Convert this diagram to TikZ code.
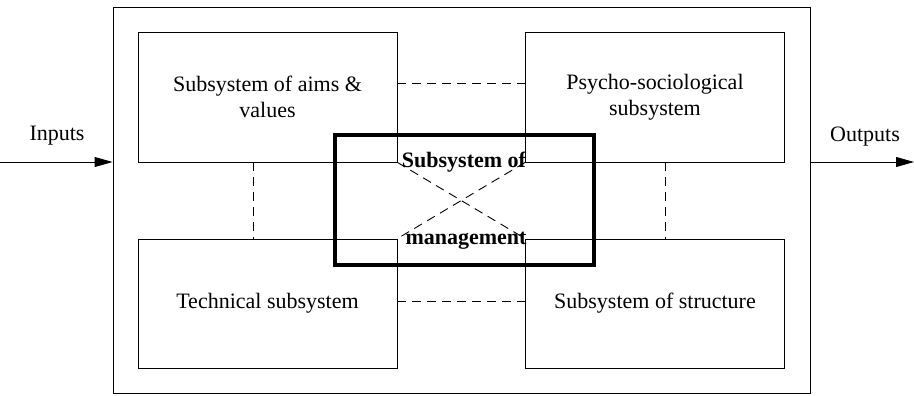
\documentclass[tikz,border=0pt]{standalone}
\usepackage{fontspec}
\setmainfont{Liberation Serif}
\usetikzlibrary{arrows.meta,calc}
\begin{document}
\begin{tikzpicture}[x=1pt,y=-1pt,
  txt/.style={font=\fontsize{22}{26}\selectfont},
  box/.style={draw,line width=0.9pt,minimum width=259pt,minimum height=129pt,align=center,inner sep=0pt,txt},
  link/.style={line width=0.9pt,dash pattern=on 9pt off 6pt},
  flow/.style={line width=0.9pt,-{Triangle[length=18pt,width=10pt]}},
  lbl/.style={txt,inner sep=0pt},
  mlbl/.style={font=\fontsize{22}{26}\selectfont\bfseries,inner sep=0pt}]
\useasboundingbox (0,0) rectangle (914,396);
\node[draw,line width=0.9pt,minimum width=697pt,minimum height=386pt] (sys) at (461.5,200) {};
\node[box,minimum height=130pt] (tl) at (267.5,97) {Subsystem of aims \&\\values};
\node[box,minimum height=130pt] (tr) at (655,97) {Psycho-sociological\\subsystem};
\node[box] (bl) at (267.5,303.5) {Technical subsystem};
\node[box] (br) at (655,303.5) {Subsystem of structure};
\node[draw,line width=3.5pt,minimum width=259pt,minimum height=130pt] (mg) at (464.5,200) {};
\draw[link] ([yshift=14pt]tl.east) -- ([yshift=14pt]tr.west);
\draw[link] ([yshift=2.5pt]bl.east) -- ([yshift=2.5pt]br.west);
\draw[link] ([xshift=-14.5pt]tl.south) -- ([xshift=-14.5pt]bl.north);
\draw[link] ([xshift=10pt]tr.south) -- ([xshift=10pt]br.north);
\draw[link] (tl.south east) -- (br.north west);
\draw[link] (tr.south west) -- (bl.north east);
\node[mlbl,anchor=base] at (464,167) {Subsystem of};
\node[mlbl,anchor=base] at (466,244) {management};
\coordinate (in) at (0,162);
\coordinate (out) at (914,162);
\draw[flow] (in) -- (in -| sys.west);
\draw[flow] (out -| sys.east) -- (out);
\node[lbl] (inl) at (57,136) {Inputs};
\node[lbl] (outl) at (865,137) {Outputs};
\end{tikzpicture}
\end{document}
